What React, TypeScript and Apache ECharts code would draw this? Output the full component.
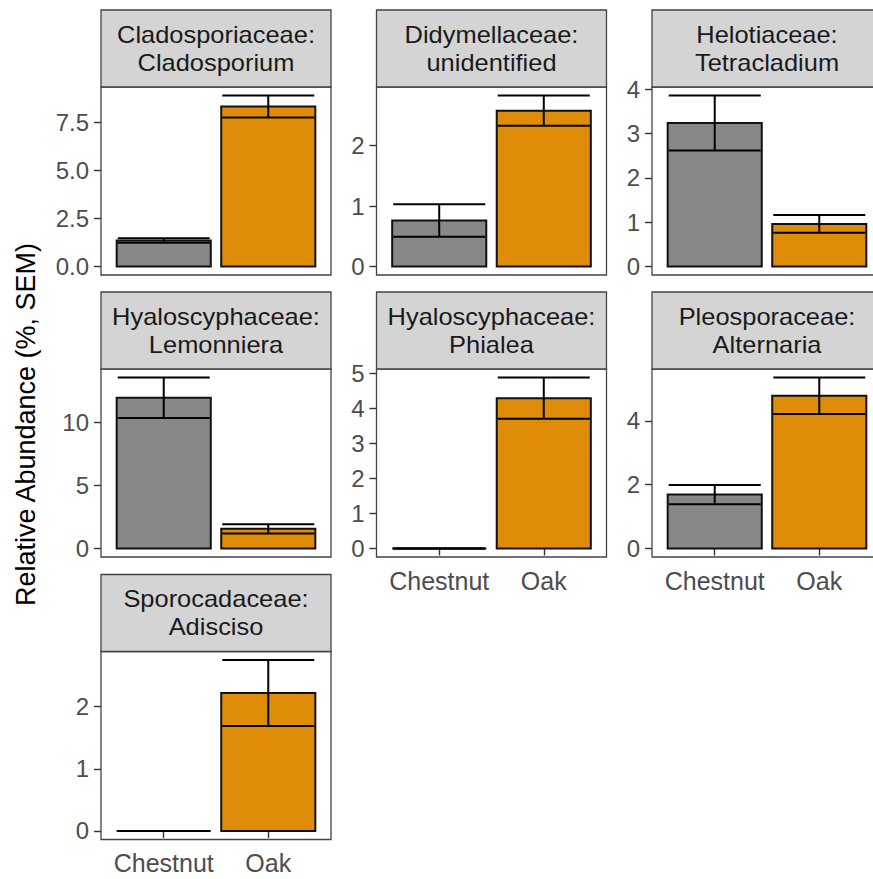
import React, { useEffect, useRef } from "react";
import * as echarts from "echarts";

// ---- data ----
const groups = ["Chestnut", "Oak"];
const panelTitles = [
  "Cladosporiaceae:\nCladosporium",
  "Didymellaceae:\nunidentified",
  "Helotiaceae:\nTetracladium",
  "Hyaloscyphaceae:\nLemonniera",
  "Hyaloscyphaceae:\nPhialea",
  "Pleosporaceae:\nAlternaria",
  "Sporocadaceae:\nAdisciso",
];
const chestnutMean = [1.35, 0.76, 3.24, 11.92, 0, 1.69, 0];
const chestnutSem = [0.12, 0.27, 0.62, 1.6, 0, 0.3, 0];
const oakMean = [8.33, 2.58, 0.96, 1.55, 4.3, 4.79, 2.22];
const oakSem = [0.57, 0.25, 0.2, 0.37, 0.59, 0.57, 0.53];
const yTicks = [
  [0, 2.5, 5, 7.5],
  [0, 1, 2],
  [0, 1, 2, 3, 4],
  [0, 5, 10],
  [0, 1, 2, 3, 4, 5],
  [0, 2, 4],
  [0, 1, 2],
];
const yDecimals = [1, 0, 0, 0, 0, 0, 0];
const yTitle = "Relative Abundance (%, SEM)";

// ---- layout / style ----
const FONT = "Liberation Sans, Arial, Helvetica, sans-serif";
const colLeft = [101, 376.5, 652];
const rowTop = [10, 292, 574.5];
const panelW = 230;
const stripH = 77;
const plotH = 188;
const barColors = ["#888888", "#DF8C09"];
const showXLabels = [false, false, false, false, true, true, true];

export default function App() {
  const ref = useRef<HTMLDivElement>(null);
  useEffect(() => {
    const chart = echarts.init(ref.current!, null, { renderer: "svg" });
    const grids: any[] = [];
    const xAxes: any[] = [];
    const yAxes: any[] = [];
    const series: any[] = [];
    const graphics: any[] = [];

    panelTitles.forEach((title, i) => {
      const col = i % 3;
      const row = Math.floor(i / 3);
      const left = colLeft[col];
      const top = rowTop[row];
      const upper = Math.max(chestnutMean[i] + chestnutSem[i], oakMean[i] + oakSem[i]);
      grids.push({
        left,
        top: top + stripH,
        width: panelW,
        height: plotH,
        show: true,
        borderColor: "#444444",
        borderWidth: 1.3,
        backgroundColor: "#ffffff",
      });
      const showX = showXLabels[i];
      xAxes.push({
        gridIndex: i,
        type: "value",
        min: 0.4,
        max: 2.6,
        axisLine: { show: false },
        splitLine: { show: false },
        axisTick: {
          show: showX,
          customValues: [1, 2],
          length: 7,
          lineStyle: { color: "#333333", width: 1.4 },
        },
        axisLabel: {
          show: showX,
          customValues: [1, 2],
          formatter: (v: number) => groups[Math.round(v) - 1],
          margin: 11,
          color: "#4D4D4D",
          fontSize: 25,
          fontFamily: FONT,
        },
      });
      const dec = yDecimals[i];
      yAxes.push({
        gridIndex: i,
        type: "value",
        min: -0.05 * upper,
        max: 1.05 * upper,
        axisLine: { show: false },
        splitLine: { show: false },
        axisTick: {
          show: true,
          customValues: yTicks[i],
          length: 7,
          lineStyle: { color: "#333333", width: 1.4 },
        },
        axisLabel: {
          show: true,
          customValues: yTicks[i],
          formatter: (v: number) => v.toFixed(dec),
          margin: 12,
          color: "#4D4D4D",
          fontSize: 24,
          fontFamily: FONT,
        },
      });
      series.push({
        type: "custom",
        xAxisIndex: i,
        yAxisIndex: i,
        clip: false,
        encode: { x: 0, y: 1 },
        data: [
          [1, chestnutMean[i], chestnutSem[i]],
          [2, oakMean[i], oakSem[i]],
        ],
        renderItem: (params: any, api: any) => {
          const x = api.value(0);
          const m = api.value(1);
          const s = api.value(2);
          const p0 = api.coord([x - 0.45, 0]);
          const p1 = api.coord([x + 0.45, m]);
          const eTop = api.coord([x, m + s]);
          const eBot = api.coord([x, m - s]);
          const cL = api.coord([x - 0.44, m])[0];
          const cR = api.coord([x + 0.44, m])[0];
          const lineStyle = { stroke: "#000000", lineWidth: 2 };
          return {
            type: "group",
            children: [
              {
                type: "rect",
                shape: { x: p0[0], y: p1[1], width: p1[0] - p0[0], height: p0[1] - p1[1] },
                style: { fill: barColors[params.dataIndex], stroke: "#111111", lineWidth: 2 },
              },
              { type: "line", shape: { x1: eTop[0], y1: eTop[1], x2: eBot[0], y2: eBot[1] }, style: lineStyle },
              { type: "line", shape: { x1: cL, y1: eTop[1], x2: cR, y2: eTop[1] }, style: lineStyle },
              { type: "line", shape: { x1: cL, y1: eBot[1], x2: cR, y2: eBot[1] }, style: lineStyle },
            ],
          };
        },
      });
      graphics.push({
        type: "rect",
        shape: { x: left, y: top, width: panelW, height: stripH },
        style: { fill: "#D4D4D4", stroke: "#444444", lineWidth: 1.3 },
        z: 10,
      });
      graphics.push({
        type: "text",
        x: left + panelW / 2,
        y: top + stripH / 2,
        scaleX: 1.06,
        z: 11,
        style: {
          text: title,
          fill: "#1A1A1A",
          fontSize: 24,
          fontFamily: FONT,
          lineHeight: 28,
          align: "center",
          verticalAlign: "middle",
        },
      });
    });

    graphics.push({
      type: "text",
      x: 26,
      y: 424.5,
      rotation: Math.PI / 2,
      style: {
        text: yTitle,
        fill: "#000000",
        fontSize: 27,
        fontFamily: FONT,
        align: "center",
        verticalAlign: "middle",
      },
    });

    chart.setOption({
      animation: false,
      backgroundColor: "#ffffff",
      grid: grids,
      xAxis: xAxes,
      yAxis: yAxes,
      series,
      graphic: graphics,
    });
    return () => chart.dispose();
  }, []);
  return (
    <div
      style={{
        position: "fixed",
        left: 0,
        top: 0,
        width: 873,
        height: 879,
        overflow: "hidden",
        background: "#ffffff",
      }}
    >
      <div ref={ref} style={{ width: 890, height: 879 }} />
    </div>
  );
}
